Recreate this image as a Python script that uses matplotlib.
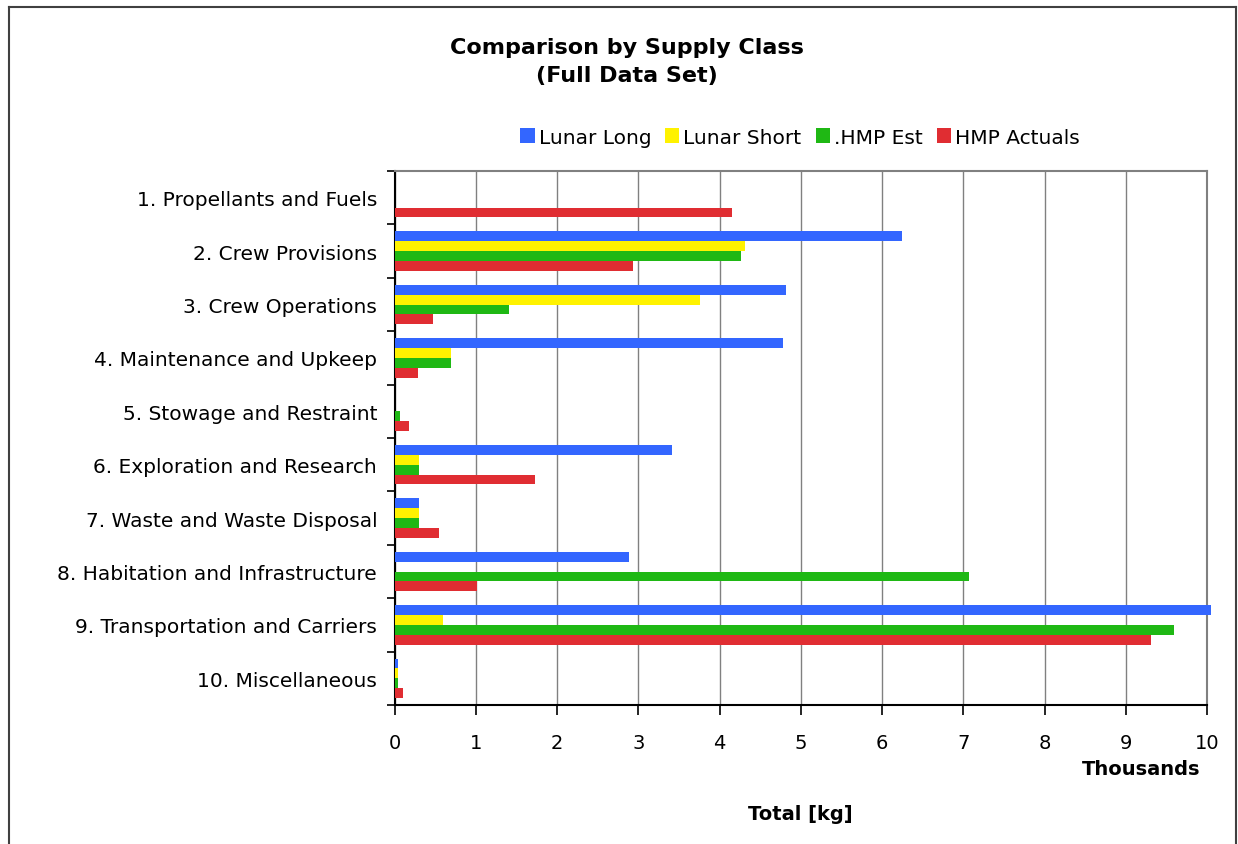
import matplotlib.pyplot as plt
import numpy as np
from matplotlib.patches import Patch
from matplotlib.lines import Line2D

categories = ['1. Propellants and Fuels', '2. Crew Provisions', '3. Crew Operations',
              '4. Maintenance and Upkeep', '5. Stowage and Restraint',
              '6. Exploration and Research', '7. Waste and Waste Disposal',
              '8. Habitation and Infrastructure', '9. Transportation and Carriers',
              '10. Miscellaneous']

# values in thousands of kg
lunar_long = [0, 6.24, 4.82, 4.78, 0, 3.41, 0.30, 2.89, 10.05, 0.045]
lunar_short = [0, 4.31, 3.76, 0.70, 0, 0.30, 0.30, 0, 0.60, 0.04]
hmp_est = [0, 4.27, 1.41, 0.69, 0.07, 0.30, 0.30, 7.07, 9.59, 0.04]
hmp_actuals = [4.15, 2.93, 0.47, 0.29, 0.18, 1.73, 0.55, 1.02, 9.31, 0.10]

series = [('Lunar Long', lunar_long, '#3366FF'),
          ('Lunar Short', lunar_short, '#FFF200'),
          ('.HMP Est', hmp_est, '#1FB814'),
          ('HMP Actuals', hmp_actuals, '#E02D32')]

W, H = 1238, 845
fig = plt.figure(figsize=(W / 100, H / 100), dpi=100)
fig.patch.set_facecolor('white')
ax = fig.add_axes([394.5 / W, 1 - 706 / H, (1207 - 394.5) / W, (706 - 172) / H])

y = np.arange(len(categories))
h = 0.184
for k, (name, vals, col) in enumerate(series):
    ax.barh(y + (k - 1.5) * h, vals, height=h, color=col, clip_on=False, zorder=3)

ax.set_xlim(0, 10)
ax.set_ylim(len(categories) - 0.5, -0.5)
ax.set_xticks(np.arange(0, 11))
ax.set_xticklabels([str(i) for i in range(11)], fontsize=14)
ax.tick_params(axis='x', direction='out', length=7, width=1.2, pad=13, colors='black')

ax.set_yticks(y)
ax.set_yticklabels(categories, fontsize=14.5)
ax.tick_params(axis='y', which='major', length=0, pad=12.5)
ax.set_yticks(np.arange(-0.5, len(categories)), minor=True)
ax.tick_params(axis='y', which='minor', direction='out', length=6, width=1.2)

ax.xaxis.grid(True, color='#808080', linewidth=1.0, zorder=0)
ax.set_axisbelow(True)
for s in ['top', 'right']:
    ax.spines[s].set_color('#808080')
    ax.spines[s].set_linewidth(1.5)
for s in ['left', 'bottom']:
    ax.spines[s].set_color('black')
    ax.spines[s].set_linewidth(1.5)

fig.text(627 / W, 1 - 62 / H, 'Comparison by Supply Class\n(Full Data Set)',
         ha='center', va='center', fontsize=16, fontweight='bold', linespacing=1.5)

handles = [Patch(facecolor=c, edgecolor='none', label=n) for n, _, c in series]
fig.legend(handles=handles, loc='center', bbox_to_anchor=(800 / W, 1 - 138 / H),
           ncol=4, frameon=False, fontsize=14.5, handlelength=0.7, handleheight=0.7,
           handletextpad=0.2, columnspacing=0.7, borderaxespad=0)

fig.text(1200 / W, 1 - 770 / H, 'Thousands', ha='right', va='center',
         fontsize=14, fontweight='bold')
fig.text(800 / W, 1 - 815 / H, 'Total [kg]', ha='center', va='center',
         fontsize=14, fontweight='bold')

# outer chart border
for xs, ys in [([8.5, 8.5], [H + 5, 7.8]), ([8.5, 1236], [7.8, 7.8]), ([1236, 1236], [7.8, H + 5])]:
    fig.add_artist(Line2D([v / W for v in xs], [1 - v / H for v in ys],
                          color='#404040', linewidth=1.5))

fig.savefig('out.png', dpi=100)
